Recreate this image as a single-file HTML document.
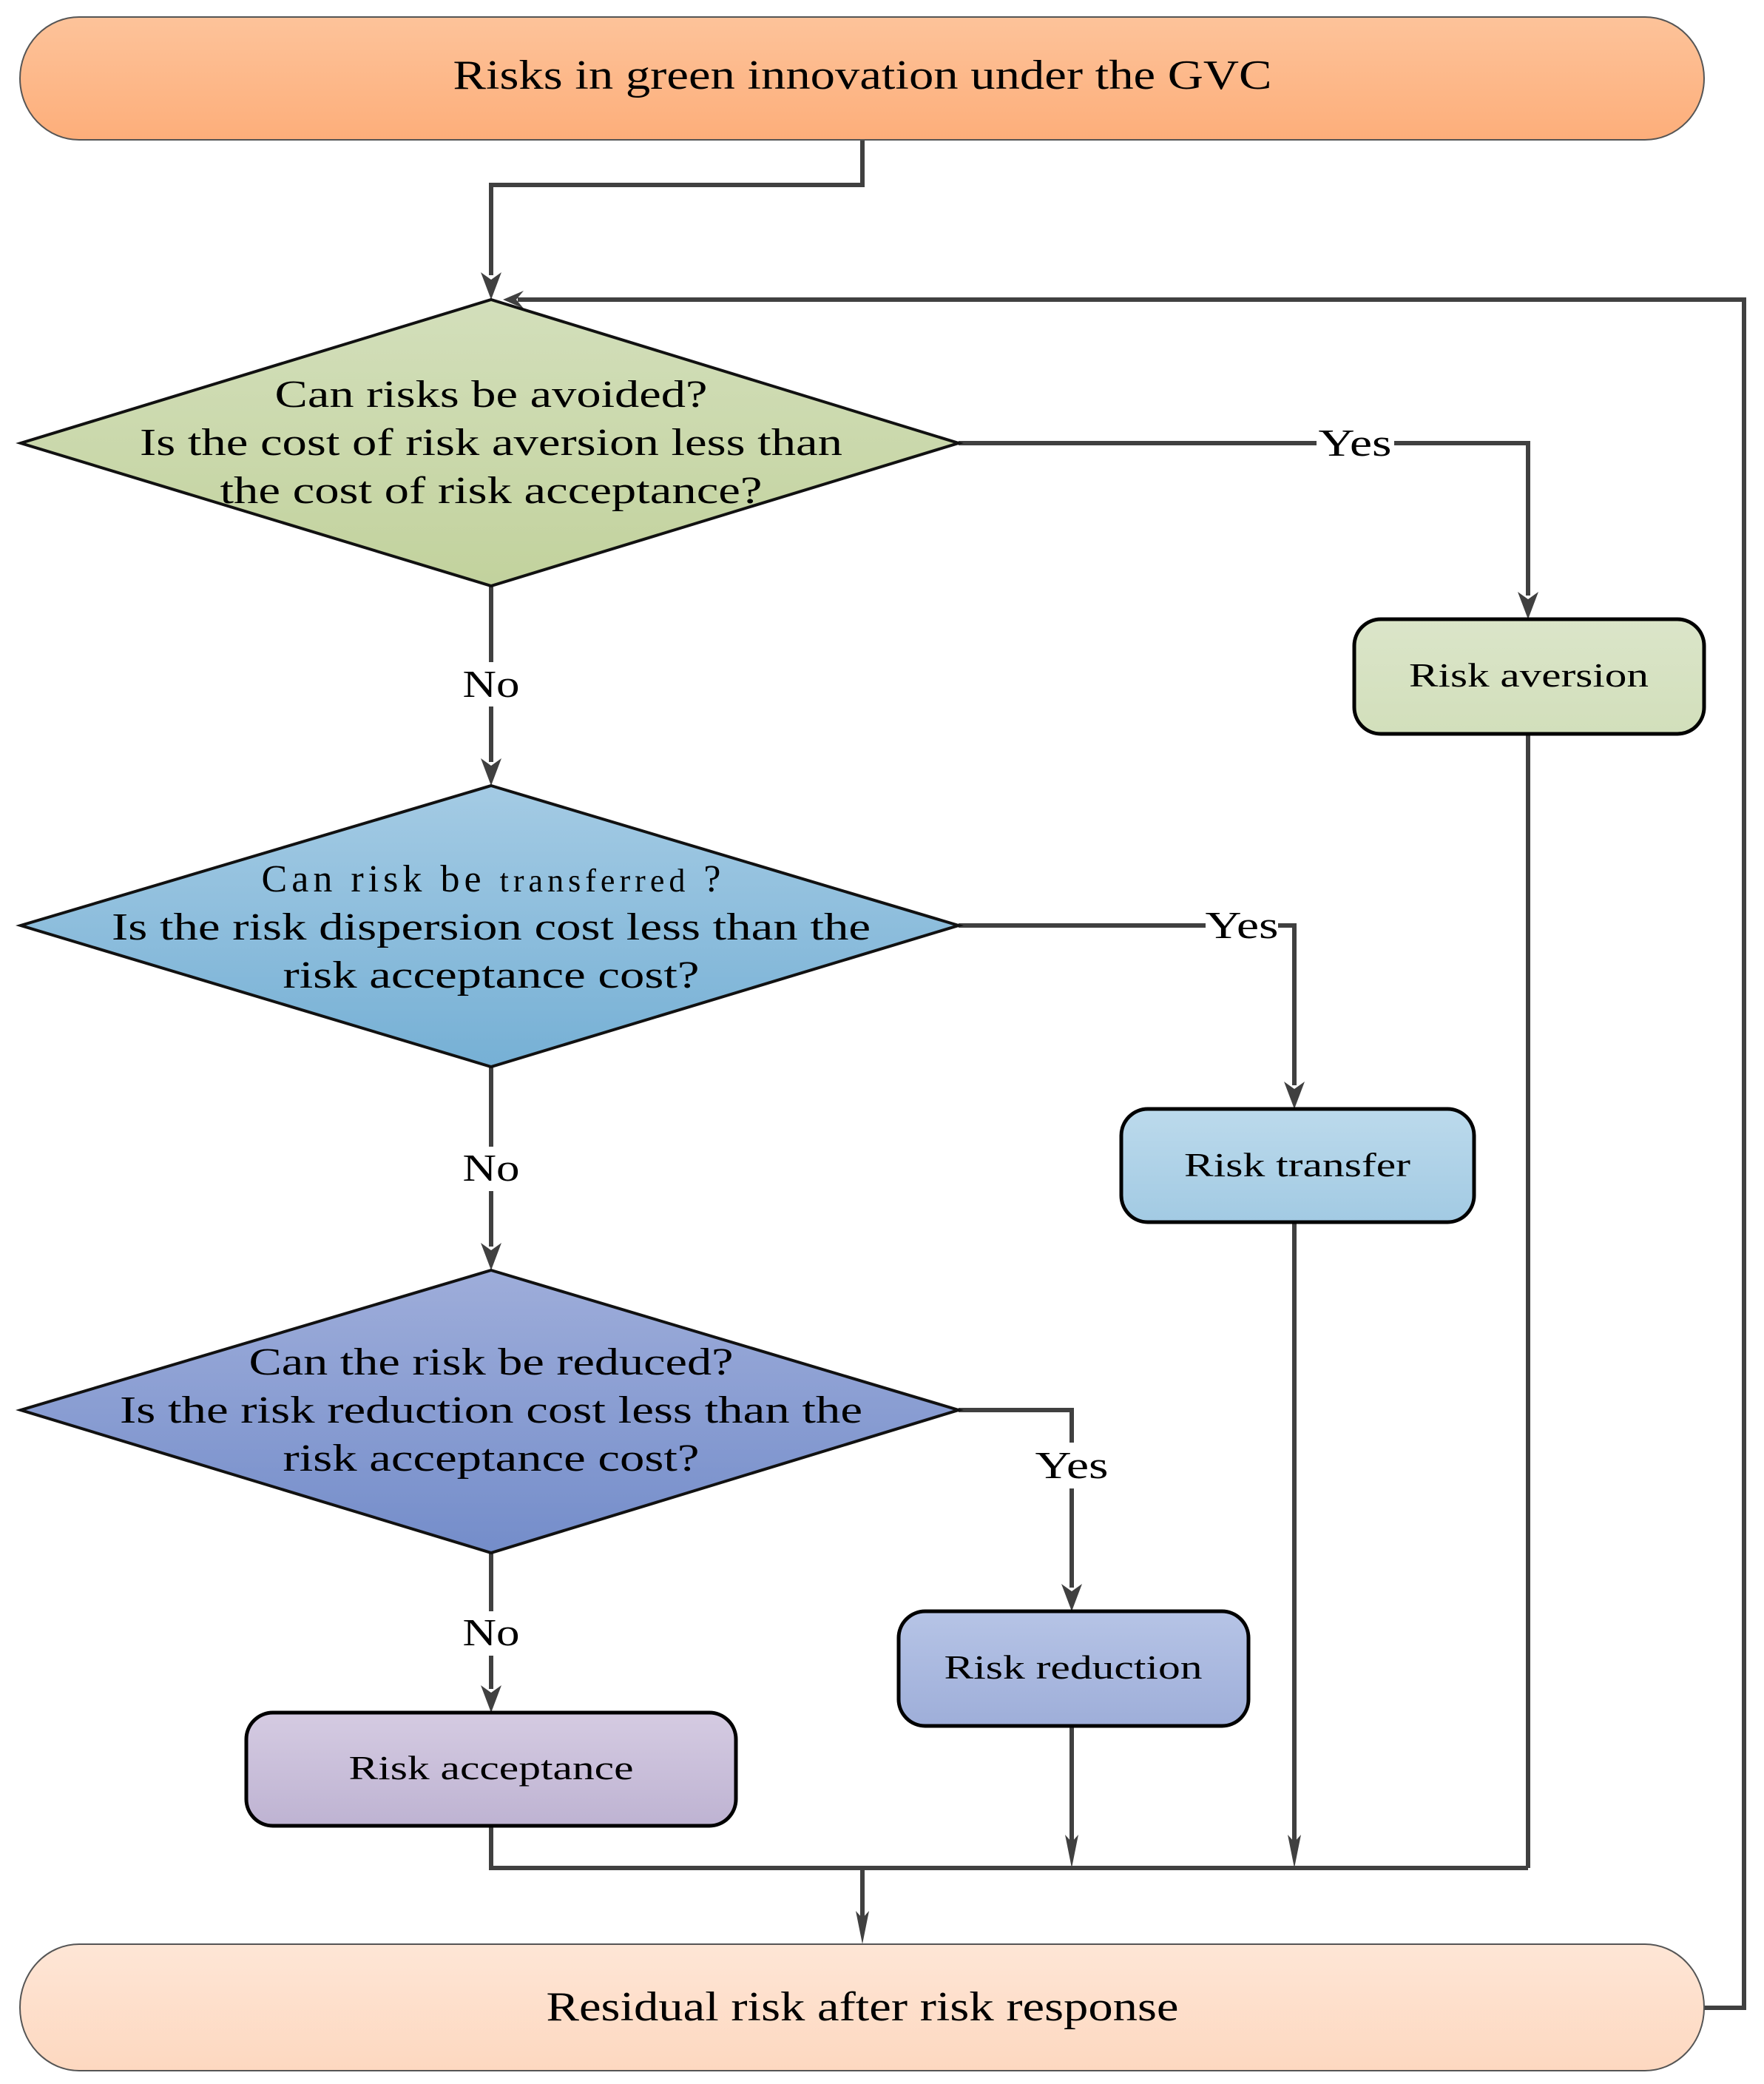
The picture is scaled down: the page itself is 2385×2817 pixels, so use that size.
<!DOCTYPE html>
<html><head><meta charset="utf-8"><style>
html,body{margin:0;padding:0;background:#fff}
svg{display:block}
text{font-family:"Liberation Serif",serif;fill:#000}
</style></head><body>
<svg width="2385" height="2817" viewBox="0 0 2385 2817" xmlns="http://www.w3.org/2000/svg">
<defs>
<linearGradient id="gTop" x1="0" y1="0" x2="0" y2="1"><stop offset="0" stop-color="#fdc39a"/><stop offset="1" stop-color="#fdae7a"/></linearGradient>
<linearGradient id="gBot" x1="0" y1="0" x2="0" y2="1"><stop offset="0" stop-color="#fee6d6"/><stop offset="1" stop-color="#fdd8c0"/></linearGradient>
<linearGradient id="gD1" x1="0" y1="0" x2="0" y2="1"><stop offset="0" stop-color="#d3dfbb"/><stop offset="1" stop-color="#c2d29d"/></linearGradient>
<linearGradient id="gD2" x1="0" y1="0" x2="0" y2="1"><stop offset="0" stop-color="#a4cbe4"/><stop offset="1" stop-color="#76b0d5"/></linearGradient>
<linearGradient id="gD3" x1="0" y1="0" x2="0" y2="1"><stop offset="0" stop-color="#9eadda"/><stop offset="1" stop-color="#748dca"/></linearGradient>
<linearGradient id="gAv" x1="0" y1="0" x2="0" y2="1"><stop offset="0" stop-color="#dbe5c9"/><stop offset="1" stop-color="#d2dfbb"/></linearGradient>
<linearGradient id="gTr" x1="0" y1="0" x2="0" y2="1"><stop offset="0" stop-color="#bcdaec"/><stop offset="1" stop-color="#a2cae3"/></linearGradient>
<linearGradient id="gRe" x1="0" y1="0" x2="0" y2="1"><stop offset="0" stop-color="#b6c4e6"/><stop offset="1" stop-color="#9eaed9"/></linearGradient>
<linearGradient id="gAc" x1="0" y1="0" x2="0" y2="1"><stop offset="0" stop-color="#d5cbe2"/><stop offset="1" stop-color="#beb3d2"/></linearGradient>
</defs>
<g stroke="#404040" stroke-width="6" fill="none">
<polyline points="1166,189 1166,250 664,250 664,372"/>
<polyline points="2304,2714 2358,2714 2358,405 700,405"/>
<polyline points="1296,599 1780,599"/><polyline points="1885,599 2066,599 2066,805"/>
<line x1="2066" y1="992" x2="2066" y2="2525"/>
<line x1="664" y1="792" x2="664" y2="895"/><line x1="664" y1="955" x2="664" y2="1030"/>
<polyline points="1296,1251 1630,1251"/><polyline points="1728,1251 1750,1251 1750,1467"/>
<line x1="1750" y1="1652" x2="1750" y2="2495"/>
<line x1="664" y1="1442" x2="664" y2="1550"/><line x1="664" y1="1610" x2="664" y2="1685"/>
<polyline points="1296,1906 1449,1906 1449,1950"/><line x1="1449" y1="2012" x2="1449" y2="2146"/>
<line x1="1449" y1="2333" x2="1449" y2="2495"/>
<line x1="664" y1="2099" x2="664" y2="2178"/><line x1="664" y1="2238" x2="664" y2="2283"/>
<polyline points="664,2468 664,2525 2066,2525"/>
<line x1="1166" y1="2525" x2="1166" y2="2596"/>
</g>
<g fill="#404040">
<path d="M664,405 L650,368 L664,378 L678,368 Z"/>
<path d="M680,405 L708,393 L698,405 L708,417 Z"/>
<path d="M2066,837 L2052,800 L2066,810 L2080,800 Z"/>
<path d="M664,1062 L650,1025 L664,1035 L678,1025 Z"/>
<path d="M1750,1499 L1736,1462 L1750,1472 L1764,1462 Z"/>
<path d="M664,1717 L650,1680 L664,1690 L678,1680 Z"/>
<path d="M1449,2178 L1435,2141 L1449,2151 L1463,2141 Z"/>
<path d="M664,2315 L650,2278 L664,2288 L678,2278 Z"/>
<path d="M1449,2525 L1440,2480 L1449,2490 L1458,2480 Z"/>
<path d="M1750,2525 L1741,2480 L1750,2490 L1759,2480 Z"/>
<path d="M1166,2628 L1157,2583 L1166,2593 L1175,2583 Z"/>
</g>
<rect x="27" y="23" width="2277" height="166" rx="80" ry="83" fill="url(#gTop)" stroke="#555" stroke-width="2"/>
<text x="1166" y="120" font-size="56" text-anchor="middle" textLength="1107" lengthAdjust="spacingAndGlyphs">Risks in green innovation under the GVC</text>
<rect x="27" y="2628" width="2277" height="171" rx="80" ry="85" fill="url(#gBot)" stroke="#555" stroke-width="2"/>
<text x="1166" y="2731" font-size="56" text-anchor="middle" textLength="855" lengthAdjust="spacingAndGlyphs">Residual risk after risk response</text>
<polygon points="664,405 1296,599 664,792 28,599" fill="url(#gD1)" stroke="#111" stroke-width="4"/>
<g font-size="52" text-anchor="middle">
<text x="664" y="550" textLength="585" lengthAdjust="spacingAndGlyphs">Can risks be avoided?</text>
<text x="664" y="615" textLength="950" lengthAdjust="spacingAndGlyphs">Is the cost of risk aversion less than</text>
<text x="664" y="680" textLength="733" lengthAdjust="spacingAndGlyphs">the cost of risk acceptance?</text></g>
<polygon points="664,1062 1296,1251 664,1442 28,1251" fill="url(#gD2)" stroke="#111" stroke-width="4"/>
<g font-size="52" text-anchor="middle">
<text x="664" y="1205" textLength="621" lengthAdjust="spacing">Can risk be <tspan font-size="44">transferred</tspan> ?</text>
<text x="664" y="1270" textLength="1026" lengthAdjust="spacingAndGlyphs">Is the risk dispersion cost less than the</text>
<text x="664" y="1335" textLength="563" lengthAdjust="spacingAndGlyphs">risk acceptance cost?</text></g>
<polygon points="664,1717 1296,1906 664,2099 28,1906" fill="url(#gD3)" stroke="#111" stroke-width="4"/>
<g font-size="52" text-anchor="middle">
<text x="664" y="1858" textLength="655" lengthAdjust="spacingAndGlyphs">Can the risk be reduced?</text>
<text x="664" y="1923" textLength="1004" lengthAdjust="spacingAndGlyphs">Is the risk reduction cost less than the</text>
<text x="664" y="1988" textLength="563" lengthAdjust="spacingAndGlyphs">risk acceptance cost?</text></g>
<rect x="1831" y="837" width="473" height="155" rx="36" fill="url(#gAv)" stroke="#000" stroke-width="5"/>
<text x="2067" y="928" font-size="46" text-anchor="middle" textLength="324" lengthAdjust="spacingAndGlyphs">Risk aversion</text>
<rect x="1516" y="1499" width="477" height="153" rx="36" fill="url(#gTr)" stroke="#000" stroke-width="5"/>
<text x="1754" y="1590" font-size="46" text-anchor="middle" textLength="306" lengthAdjust="spacingAndGlyphs">Risk transfer</text>
<rect x="1215" y="2178" width="473" height="155" rx="36" fill="url(#gRe)" stroke="#000" stroke-width="5"/>
<text x="1451" y="2269" font-size="46" text-anchor="middle" textLength="349" lengthAdjust="spacingAndGlyphs">Risk reduction</text>
<rect x="333" y="2315" width="662" height="153" rx="36" fill="url(#gAc)" stroke="#000" stroke-width="5"/>
<text x="664" y="2405" font-size="46" text-anchor="middle" textLength="385" lengthAdjust="spacingAndGlyphs">Risk acceptance</text>
<g font-size="52" text-anchor="middle">
<text x="1832" y="616" textLength="99" lengthAdjust="spacingAndGlyphs">Yes</text>
<text x="664" y="942" textLength="77" lengthAdjust="spacingAndGlyphs">No</text>
<text x="1679" y="1268" textLength="99" lengthAdjust="spacingAndGlyphs">Yes</text>
<text x="664" y="1596" textLength="77" lengthAdjust="spacingAndGlyphs">No</text>
<text x="1449" y="1998" textLength="99" lengthAdjust="spacingAndGlyphs">Yes</text>
<text x="664" y="2224" textLength="77" lengthAdjust="spacingAndGlyphs">No</text>
</g>
</svg>
</body></html>
